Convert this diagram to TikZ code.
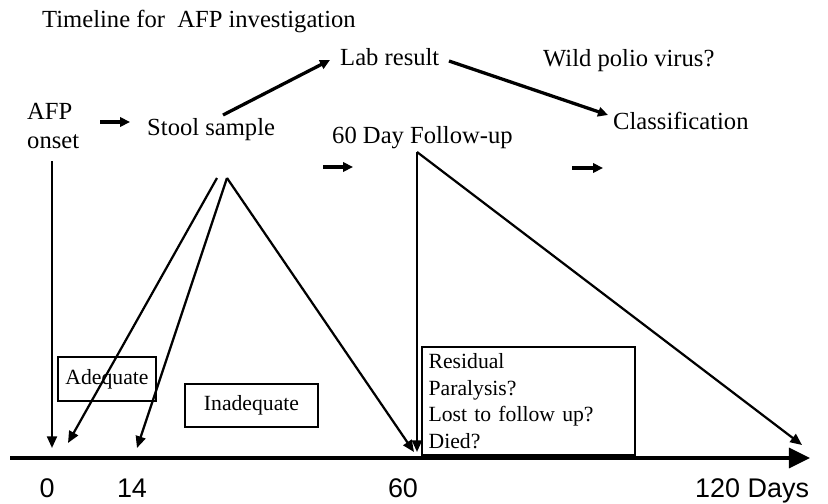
\documentclass[tikz,border=0pt]{standalone}
\usepackage{fontspec}
\setmainfont{Liberation Serif}
\setsansfont{Liberation Sans}
\usetikzlibrary{arrows.meta}

\begin{document}
\begin{tikzpicture}[x=0.03cm, y=-0.03cm,
    labelStyle/.style={inner sep=0pt, anchor=base west, font=\fontsize{21}{25}\selectfont},
    boxStyle/.style={draw, line width=1.7pt, inner sep=0pt, font=\fontsize{18.5}{22}\selectfont},
    dayStyle/.style={inner sep=0pt, anchor=base, font=\sffamily\fontsize{23}{27}\selectfont},
    arrowStyle/.style={line width=1.9pt, -{Triangle[length=10pt, width=8.5pt]}},
    boldArrow/.style={line width=2.8pt, -{Triangle[length=8.5pt, width=8pt]}}]
    \useasboundingbox (0,0) rectangle (828,504);

    % texts
    \node[labelStyle](title) at (42,27) {Timeline for\ \ AFP investigation};
    \node[labelStyle](lab) at (340,65) {Lab result};
    \node[labelStyle](wild) at (543,66) {Wild polio virus?};
    \node[labelStyle](afp) at (27,119) {AFP};
    \node[labelStyle](onset) at (27,148) {onset};
    \node[labelStyle](stool) at (147,135) {Stool sample};
    \node[labelStyle](followup) at (332,143) {60 Day Follow-up};
    \node[labelStyle](classif) at (613,129) {Classification};

    % boxes
    \node[boxStyle, minimum width=2.94cm, minimum height=1.32cm](adequate) at (107,379) {Adequate};
    \node[boxStyle, minimum width=3.99cm, minimum height=1.29cm](inadequate) at (251.5,405.5) {Inadequate};
    \node[boxStyle, anchor=north west, text width=5.99cm, inner xsep=0.2cm, inner ysep=0.2cm,
          align=left, font=\fontsize{18.5}{22.7}\selectfont](residual) at (421,346)
          {Residual\\Paralysis?\\Lost to follow up?\\Died?};

    % days
    \node[dayStyle](d0) at (47,497) {0};
    \node[dayStyle](d14) at (132,497) {14};
    \node[dayStyle](d60) at (403,497) {60};
    \node[dayStyle, anchor=base west](d120) at (695,497) {120 Days};

    % points
    \coordinate (axisStart) at (10,458);
    \coordinate (axisEnd) at (810,458);
    \coordinate (onsetLine) at (52,161);
    \coordinate (t0) at (52,448);
    \coordinate (t0b) at (68,443);
    \coordinate (t14) at (137,448);
    \coordinate (t60a) at (414,452);
    \coordinate (t60b) at (417,452);
    \coordinate (t120) at (802,445);
    \coordinate (stoolFork) at (217,178);
    \coordinate (stoolApex) at (227,178);
    \coordinate (followApex) at (417,152);
    \coordinate (stoolOut) at (223,115);
    \coordinate (labIn) at (330,60);
    \coordinate (labOut) at (449,61);
    \coordinate (classIn) at (608,115);
    \coordinate (a1s) at (100,122);
    \coordinate (a1e) at (130,122);
    \coordinate (a2s) at (323,167);
    \coordinate (a2e) at (353,167);
    \coordinate (a3s) at (572,168);
    \coordinate (a3e) at (603,168);

    % connectors
    \draw[line width=2.8pt, -{Triangle[length=18pt, width=17pt]}] (axisStart) -- (axisEnd);
    \draw[arrowStyle] (onsetLine) -- (t0);
    \draw[arrowStyle] (stoolFork) -- (t0b);
    \draw[arrowStyle] (stoolApex) -- (t14);
    \draw[arrowStyle] (stoolApex) -- (t60a);
    \draw[arrowStyle] (followApex) -- (t60b);
    \draw[arrowStyle] (followApex) -- (t120);
    \draw[boldArrow] (stoolOut) -- (labIn);
    \draw[boldArrow] (labOut) -- (classIn);
    \draw[boldArrow] (a1s) -- (a1e);
    \draw[boldArrow] (a2s) -- (a2e);
    \draw[boldArrow] (a3s) -- (a3e);
\end{tikzpicture}
\end{document}
